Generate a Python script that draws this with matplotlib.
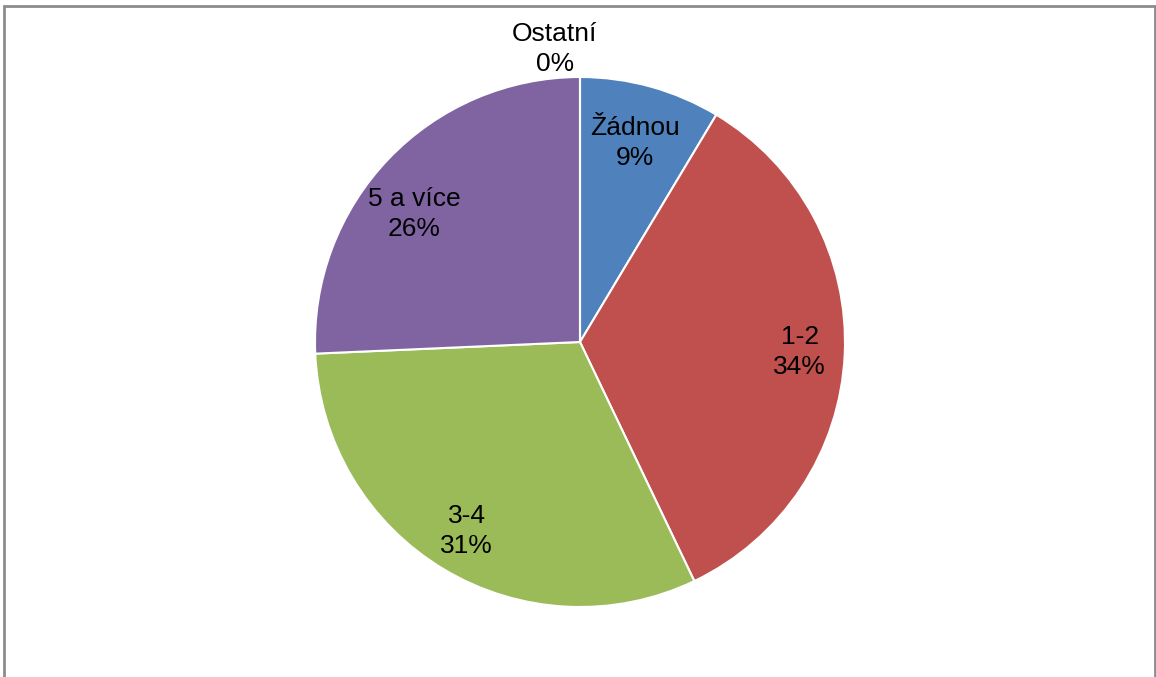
import numpy as np
import matplotlib.pyplot as plt
from matplotlib.patches import Rectangle

# Data (share of respondents)
categories = ['Žádnou', '1-2', '3-4', '5 a více', 'Ostatní']
values = [8.6, 34.3, 31.4, 25.7, 0.0]
pct_labels = ['9%', '34%', '31%', '26%', '0%']
colors = ['#4F81BD', '#C0504D', '#9BBB59', '#8064A2', '#F79646']

plt.rcParams['font.family'] = ['Liberation Sans', 'DejaVu Sans']

W, H = 1156, 677
fig = plt.figure(figsize=(W / 100, H / 100), dpi=100)

# outer chart frame
fig.patches.append(Rectangle((4 / W, -0.05), (1155 - 4) / W, 1.05 - 6 / H,
                             transform=fig.transFigure, fill=False,
                             edgecolor='#8c8c8c', linewidth=2))

cx, cy, r = 580, 342, 265
ax = fig.add_axes([(cx - r) / W, (H - cy - r) / H, 2 * r / W, 2 * r / H])

wedges, _ = ax.pie(values, colors=colors, startangle=90, counterclock=False,
                   wedgeprops=dict(edgecolor='white', linewidth=1.5))
ax.set_xlim(-1, 1)
ax.set_ylim(-1, 1)
ax.set_aspect('equal')
ax.axis('off')

# label placement: distance from centre and small angle nudge per slice
dist = [0.78, 0.83, 0.83, 0.79]
nudge = [0, 0, 0, 6]
for i, (w, name, pct) in enumerate(zip(wedges, categories, pct_labels)):
    if values[i] > 0:
        ang = np.deg2rad((w.theta1 + w.theta2) / 2 + nudge[i])
        x, y = dist[i] * np.cos(ang), dist[i] * np.sin(ang)
    else:
        x, y = -0.095, 1.105
    ax.text(x, y, f'{name}\n{pct}', ha='center', va='center', fontsize=19,
            linespacing=1.32, color='black')

fig.savefig('out.png', dpi=100)
